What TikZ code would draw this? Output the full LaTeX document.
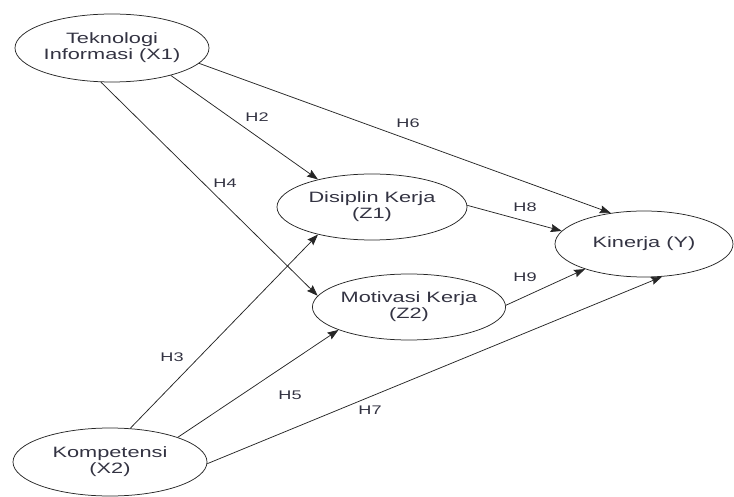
\documentclass[tikz,border=0pt]{standalone}
\usepackage{fontspec}
\setmainfont{Liberation Sans}[FakeStretch=1.45]
\usetikzlibrary{arrows.meta,shapes.geometric}

\definecolor{inktext}{rgb}{0.2,0.2,0.26}

\begin{document}
\begin{tikzpicture}[
  x=1pt, y=-1pt,
  >={Stealth[length=11pt,width=8pt,inset=1.5pt]},
  construct/.style={draw=black!85, line width=0.75pt, ellipse, inner sep=0pt, align=center,
    minimum width=194pt, minimum height=68pt, text=inktext, font=\fontsize{15}{16}\selectfont},
  hyp/.style={text=inktext, font=\fontsize{12.5}{14}\selectfont},
  path/.style={->, line width=0.75pt, draw=black!85}
]
\useasboundingbox (0,0) rectangle (734,497);

\node[construct] (ti) at (112,48) {Teknologi\\Informasi (X1)};
\node[construct] (komp) at (110,462) {Kompetensi\\(X2)};
\node[construct, minimum width=190pt, minimum height=66pt] (disiplin) at (372,207) {Disiplin Kerja\\(Z1)};
\node[construct, minimum width=192pt, minimum height=66pt] (motivasi) at (409,307) {Motivasi Kerja\\(Z2)};
\node[construct, minimum width=178pt, minimum height=66pt] (kinerja) at (644,244) {Kinerja (Y)};

% paths from X1
\draw[path] (ti.-25.5) -- (disiplin.153.8);
\draw[path] (ti.252) -- (motivasi.173.3);
\draw[path] (ti.-10.1) -- (kinerja.137.4);

% paths from X2
\draw[path] (komp.59.5) -- (disiplin.207.4);
\draw[path] (komp.20.7) -- (motivasi.198.7);
\draw[path] (komp.-1.8) -- (kinerja.299.6);

% mediators to Y
\draw[path] (disiplin.1.8) -- (kinerja.171.2);
\draw[path] (motivasi.1.2) -- (kinerja.203.1);

\node[hyp] (h2) at (257,117) {H2};
\node[hyp] (h3) at (172,357) {H3};
\node[hyp] (h4) at (225,183) {H4};
\node[hyp] (h5) at (290,395) {H5};
\node[hyp] (h6) at (408,123) {H6};
\node[hyp] (h7) at (370,410) {H7};
\node[hyp] (h8) at (525,207) {H8};
\node[hyp] (h9) at (525,277) {H9};

\end{tikzpicture}
\end{document}
